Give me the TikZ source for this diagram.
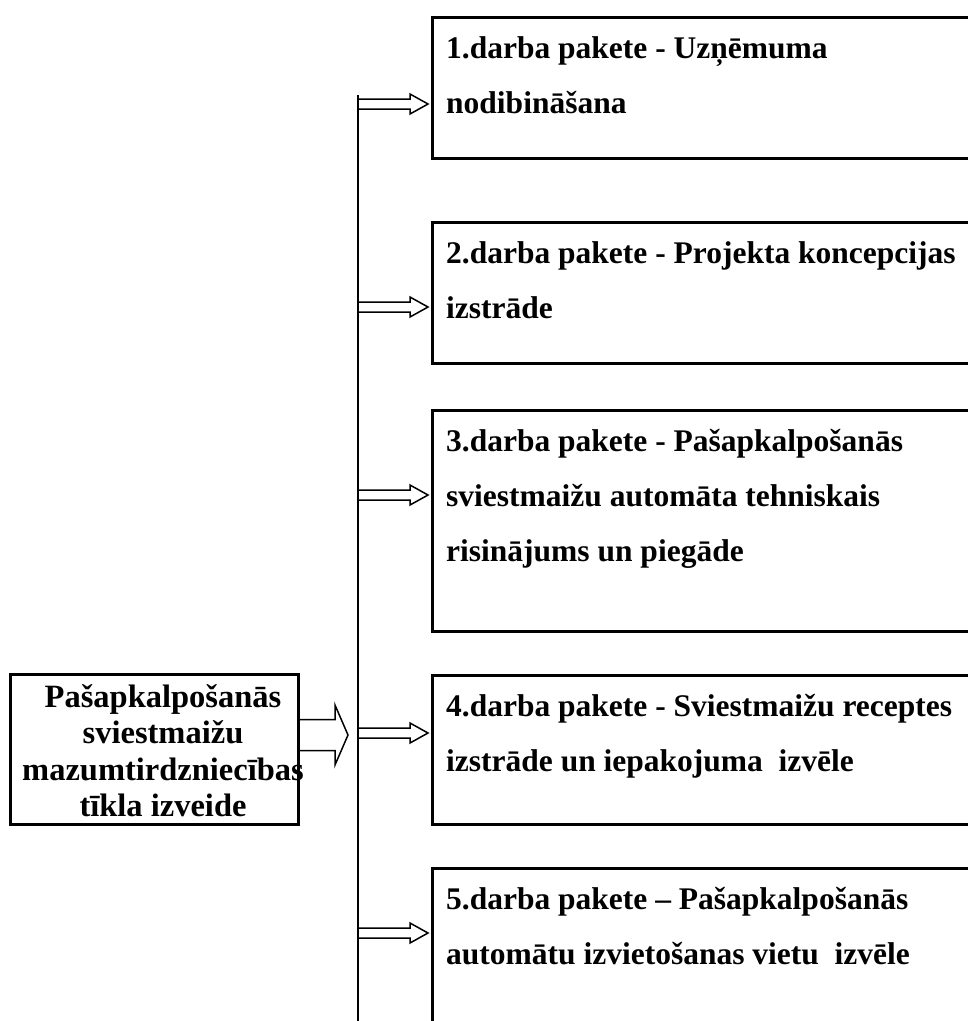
\documentclass[tikz,border=0pt]{standalone}
\usepackage{fontspec}
\setmainfont{Liberation Serif}
\usetikzlibrary{calc}

\begin{document}
\begin{tikzpicture}[x=1pt, y=-1pt,
    box/.style={draw, line width=3pt, inner sep=0pt, outer sep=0pt, anchor=north west},
    boxtext/.style={inner sep=0pt, anchor=north west, align=left,
      font=\fontsize{31.5}{55}\selectfont\bfseries},
    hollow/.style={draw, line width=1.5pt, line join=miter}]
    \useasboundingbox (0,0) rectangle (968,1021);
    \clip (0,0) rectangle (968,1021);
    % main task
    \node[box, minimum width=288pt, minimum height=150pt] (main) at (10,674) {};
    \node[inner sep=0pt, anchor=north, align=center,
      font=\fontsize{32.5}{36.5}\selectfont\bfseries] (maintext) at (163,684)
      {Pašapkalpošanās\\sviestmaižu\\mazumtirdzniecības\\tīkla izveide};
    % work packages
    \foreach \n/\top/\h/\txt in {
        1/17/141/{1.darba pakete - Uzņēmuma\\nodibināšana},
        2/222/141/{2.darba pakete - Projekta koncepcijas\\izstrāde},
        3/410/221/{3.darba pakete - Pašapkalpošanās\\sviestmaižu automāta tehniskais\\risinājums un piegāde},
        4/675/149/{4.darba pakete - Sviestmaižu receptes\\izstrāde un iepakojuma\ \ izvēle},
        5/868/200/{5.darba pakete – Pašapkalpošanās\\automātu izvietošanas vietu\ \ izvēle}}{
      \node[box, minimum width=600pt, minimum height=\h pt] (wp\n) at (432,\top) {};
      \node[boxtext] (wptext\n) at ($(wp\n.north west)+(14,19.5)$) {\txt};
    }
    % spine
    \coordinate (spinetop) at (358,95);
    \coordinate (spinebot) at (358,1021);
    \draw[line width=1.5pt] (spinetop) -- (spinebot);
    \coordinate (bigfrom) at (main.east |- 0,735);
    \coordinate (bigto) at ($(spinetop |- bigfrom)+(-10,0)$);
    \draw[hollow] ($(bigfrom)+(0,-15.5)$) -- ($(bigto)+(-13,-15.5)$) -- ($(bigto)+(-13,-30)$)
      -- (bigto) -- ($(bigto)+(-13,30)$) -- ($(bigto)+(-13,15.5)$) -- ($(bigfrom)+(0,15.5)$);
    % arrows to packages
    \foreach \n/\y in {1/104, 2/307, 3/495, 4/733, 5/933}{
      \coordinate (from\n) at (spinetop |- 0,\y);
      \coordinate (to\n) at ($(wp\n.west |- from\n)+(-4,0)$);
      \draw[hollow] ($(from\n)+(0,-5)$) -- ($(to\n)+(-18,-5)$) -- ($(to\n)+(-18,-10)$)
        -- (to\n) -- ($(to\n)+(-18,10)$) -- ($(to\n)+(-18,5)$) -- ($(from\n)+(0,5)$);
    }
\end{tikzpicture}
\end{document}
